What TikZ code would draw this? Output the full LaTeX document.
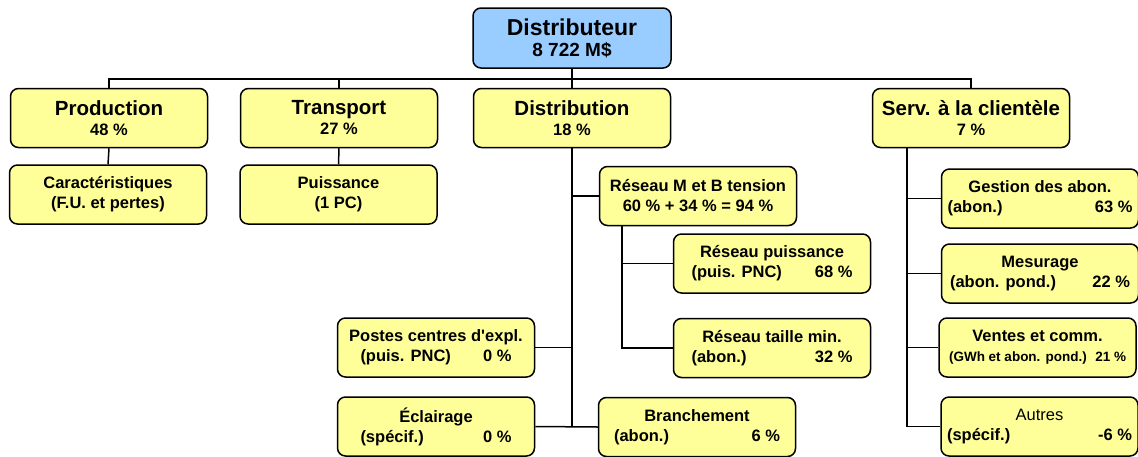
\documentclass[tikz,border=0pt]{standalone}
\usepackage{fontspec}
\setmainfont{Liberation Sans}
\usepackage{xcolor}
\usepackage{tikz}
\definecolor{boxyellow}{HTML}{FFFF99}
\definecolor{topblue}{HTML}{99CCFF}
\newcommand{\lr}[3]{\makebox[#1pt]{#2\hfill #3}}
\newcommand{\ttl}[1]{{\fontsize{20.5}{21}\selectfont #1}}

\begin{document}
\begin{tikzpicture}[x=1pt,y=-1pt,line width=1.5pt,
    box/.style={draw, rounded corners=8pt, fill=boxyellow, minimum width=197pt, minimum height=59pt,
        inner sep=0pt, align=center, font=\bfseries\fontsize{16.5}{20}\selectfont}]
    \useasboundingbox (0,0) rectangle (1138,456);
    \node [box, fill=topblue, minimum width=198pt, minimum height=60pt] (dist) at (572,38)
        {{\fontsize{23}{25}\selectfont Distributeur}\\[1pt]{\fontsize{19}{20}\selectfont 8 722 M\$}};
    \node [box] (prod) at (109,118) {\ttl{Production}\\48 \%};
    \node [box] (trans) at (339,118) {\ttl{Transport}\\27 \%};
    \node [box] (distr) at (572,118) {\ttl{Distribution}\\18 \%};
    \node [box] (serv) at (971,118) {\ttl{Serv. à la clientèle}\\7 \%};
    \node [box] (cara) at (108,194.5) {Caractéristiques\\(F.U. et pertes)};
    \node [box] (puis) at (338.5,194.5) {Puissance\\(1 PC)};
    \node [box] (rmb) at (698,196) {Réseau M et B tension\\60 \% + 34 \% = 94 \%};
    \node [box] (rpuis) at (772,263.5) {Réseau puissance\\\lr{161}{(puis. PNC)}{68 \%}};
    \node [box] (rtaille) at (772,348) {Réseau taille min.\\\lr{161}{(abon.)}{32 \%}};
    \node [box] (postes) at (436,347.5) {Postes centres d\textquotesingle expl.\\\lr{151}{(puis. PNC)}{0 \%}};
    \node [box] (eclair) at (436,426.5) {Éclairage\\\lr{151}{(spécif.)}{0 \%}};
    \node [box] (branch) at (697,427) {Branchement\\\lr{166}{(abon.)}{6 \%}};
    \node [box] (gest) at (1040,198.5) {Gestion des abon.\\\lr{185}{(abon.)}{63 \%}};
    \node [box] (mesur) at (1040,273.5) {Mesurage\\\lr{180}{(abon. pond.)}{22 \%}};
    \node [box] (ventes) at (1037.5,347.5)
        {Ventes et comm.\\{\fontsize{13.5}{16}\selectfont\lr{177}{(GWh et abon. pond.)}{21 \%}}};
    \node [box] (autres) at (1039.5,426.5) {{\mdseries Autres}\\\lr{185}{(spécif.)}{-6 \%}};

    \coordinate (bus) at (572,79);
    \draw (dist.south) -- (distr.north);
    \draw (prod.north) |- (bus) -| (serv.north);
    \draw (trans.north) -- (trans.north |- bus);
    \draw (prod.south) -- (cara.north);
    \draw (trans.south) -- (puis.north);

    \draw (distr.south) -- (distr.south |- eclair.east);
    \draw (eclair.east) -- (branch.west);
    \draw (postes.east) -- (postes.east -| distr.south);
    \draw (rmb.west) -- (rmb.west -| distr.south);
    \coordinate (rj) at ([xshift=23pt]rmb.south west);
    \draw (rj) |- (rtaille.west);
    \draw (rpuis.west) -- (rpuis.west -| rj);

    \coordinate (sj) at ([xshift=35pt]serv.south west);
    \draw (sj) |- (autres.west);
    \foreach \n in {gest,mesur,ventes}
        \draw (\n.west) -- (\n.west -| sj);
\end{tikzpicture}
\end{document}
